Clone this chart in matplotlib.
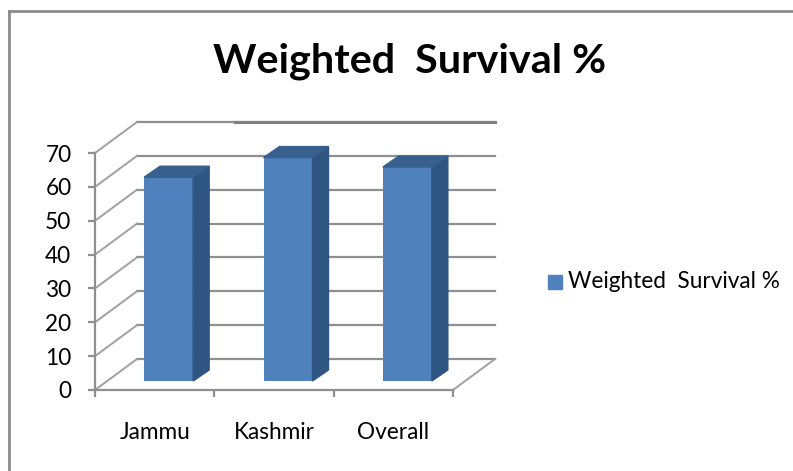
#!/usr/bin/env python3
"""Weighted survival % as a faux-3D Excel style column chart."""
import matplotlib

matplotlib.use("Agg")
import matplotlib.pyplot as plt
from matplotlib.lines import Line2D
from matplotlib.patches import Polygon, Rectangle

categories = ["Jammu", "Kashmir", "Overall"]
values = [60.2, 66, 63.2]
y_ticks = [0, 10, 20, 30, 40, 50, 60, 70]
title = "Weighted  Survival %"

W, H = 793, 471
GRID = "#8f8f8f"
FRONT = "#4f81bd"
SIDE = "#2f5583"
TOP = "#38608f"

plt.rcParams["font.family"] = ["Lato", "DejaVu Sans"]

fig = plt.figure(figsize=(W / 100, H / 100), dpi=100, facecolor="white")

# outer chart frame, runs off the right and bottom of the picture
fig.add_artist(Line2D([9 / W, 9 / W], [0, 1 - 11 / H], color="#8a8a8a", lw=2))
fig.add_artist(Line2D([9 / W, 1], [1 - 11 / H, 1 - 11 / H], color="#8a8a8a", lw=2))

# axes box is the front plane of the 3D box
ax = fig.add_axes([95 / W, 1 - 390 / H, 358 / W, 237 / H])
ax.set_xlim(0, len(categories))
ax.set_ylim(0, 70)
ax.patch.set_visible(False)
for name in ["top", "right"]:
    ax.spines[name].set_visible(False)
for name in ["left", "bottom"]:
    ax.spines[name].set_color(GRID)
    ax.spines[name].set_linewidth(1.6)

# depth of the box and of the bars, in data units
depth_x = 42 / 358 * 3
depth_y = 31 / 237 * 70
bar_dx = 16 / 358 * 3
bar_dy = 11 / 237 * 70
lift = 9 / 237 * 70
bar_w = 49 / 358 * 3
bar_shift = 14 / 358 * 3

# back wall gridlines and side wall slants
for t in y_ticks:
    ax.plot([depth_x, 3 + depth_x], [t + depth_y, t + depth_y], color=GRID, lw=1.6,
            clip_on=False, zorder=1)
    ax.plot([0, depth_x], [t, t + depth_y], color="#a0a0a0", lw=1.4,
            clip_on=False, zorder=1)
ax.plot([3, 3 + depth_x], [0, depth_y], color="#a0a0a0", lw=1.4, clip_on=False, zorder=1)
# the top back line reads heavier from the second category on
ax.plot([1.173, 3 + depth_x], [70 + depth_y, 70 + depth_y], color="#808080", lw=2.2,
        clip_on=False, zorder=1)

for i, v in enumerate(values):
    left = i + 0.5 + bar_shift - bar_w / 2
    right = left + bar_w
    top = lift + v
    ax.bar(left, v, width=bar_w, bottom=lift, align="edge", color=FRONT, zorder=3,
           clip_on=False)
    ax.add_patch(Polygon([(right, lift), (right + bar_dx, lift + bar_dy),
                          (right + bar_dx, top + bar_dy), (right, top)],
                         closed=True, color=SIDE, zorder=3, clip_on=False))
    ax.add_patch(Polygon([(left, top), (left + bar_dx, top + bar_dy),
                          (right + bar_dx, top + bar_dy), (right, top)],
                         closed=True, color=TOP, zorder=3, clip_on=False))

ax.set_yticks(y_ticks)
ax.set_xticks(range(len(categories) + 1))
ax.set_xticklabels([])
ax.tick_params(axis="y", color=GRID, width=1.6, length=5, labelsize=16.3, pad=12,
               labelcolor="black")
ax.tick_params(axis="x", color=GRID, width=1.6, length=5)

for i, cat in enumerate(categories):
    ax.annotate(cat, xy=(i + 0.5, 0), xycoords="data", xytext=(0, -23),
                textcoords="offset points", ha="center", va="top", fontsize=16.3,
                color="black")

fig.text(410 / W, 1 - 61 / H, title, ha="center", va="center", fontsize=29.8,
         fontweight="bold", color="black")

# legend
fig.add_artist(Rectangle((548 / W, 1 - 289 / H), 14 / W, 14 / H, color=FRONT,
                         transform=fig.transFigure))
fig.text(568 / W, 1 - 282 / H, title, ha="left", va="center", fontsize=16.3,
         color="black")

fig.savefig("out.png", dpi=100)
